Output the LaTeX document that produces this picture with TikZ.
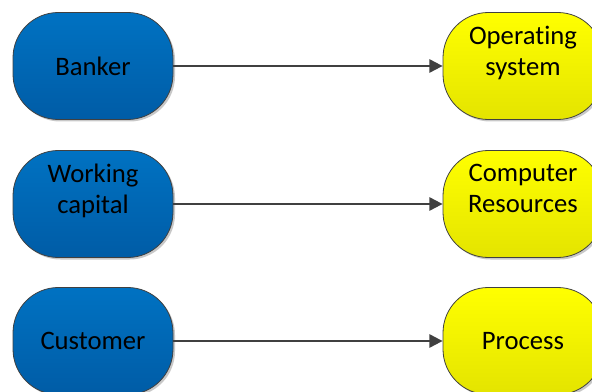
\documentclass[tikz,border=0pt]{standalone}
\usepackage{fontspec}
\setmainfont[Ligatures=NoCommon]{Carlito}
\usetikzlibrary{arrows.meta,shadows}
\definecolor{bluetop}{RGB}{0,114,194}
\definecolor{bluebot}{RGB}{0,92,166}
\definecolor{yeltop}{RGB}{255,255,0}
\definecolor{yelbot}{RGB}{228,228,0}
\definecolor{edgecol}{RGB}{64,64,64}
\begin{document}
\begin{tikzpicture}[x=0.75pt,y=-0.75pt,
  shapebox/.style={draw=edgecol, line width=0.6pt, minimum width=120pt, minimum height=80.25pt,
    rounded corners=34pt, align=center, font=\fontsize{20}{23.25}\selectfont, inner sep=0pt,
    drop shadow={shadow xshift=1.5pt, shadow yshift=-1.5pt, opacity=0.3, fill=black!70}},
  bluebox/.style={shapebox, top color=bluetop, bottom color=bluebot},
  yelbox/.style={shapebox, top color=yeltop, bottom color=yelbot},
  conn/.style={draw=edgecol, line width=1.5pt, -{Triangle[length=10pt,width=10pt]}}]
\clip (0,0) rectangle (592,392);
\fill[white] (0,0) rectangle (592,392);
\node[bluebox] (b1) at (93,66) {Banker};
\node[bluebox] (b2) at (93,204) {Working\\capital\\\mbox{}};
\node[bluebox] (b3) at (93,341) {Customer};
\node[yelbox] (y1) at (523,66) {Operating\\system\\\mbox{}};
\node[yelbox] (y2) at (523,204) {Computer\\Resources\\\mbox{}};
\node[yelbox] (y3) at (523,341) {Process};
\draw[conn] (b1) -- (y1);
\draw[conn] (b2) -- (y2);
\draw[conn] (b3) -- (y3);
\end{tikzpicture}
\end{document}
